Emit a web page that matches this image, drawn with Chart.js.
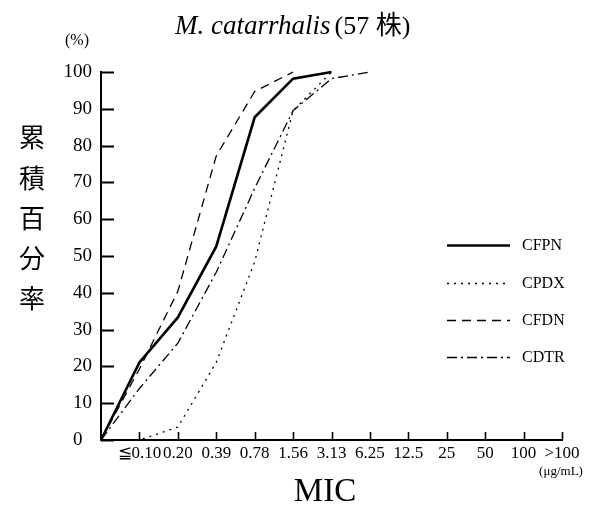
<!DOCTYPE html>
<html>
<head>
<meta charset="utf-8">
<script src="https://cdn.jsdelivr.net/npm/chart.js@4/dist/chart.umd.min.js"></script>
<style>
  html, body { margin: 0; padding: 0; background: #fff; }
  #wrap { width: 595px; height: 508px; position: relative; }
</style>
</head>
<body>
<div id="wrap"><canvas id="c" width="595" height="508"></canvas></div>
<script>
// ---- data ----
const categories = ['', '\u22660.10', '0.20', '0.39', '0.78', '1.56', '3.13', '6.25', '12.5', '25', '50', '100', '>100'];
const seriesNames = ['CFPN', 'CPDX', 'CFDN', 'CDTR'];
const cfpn = [0, 21.1, 33.3, 52.6, 87.7, 98.2, 100];
const cpdx = [0, 0, 3.5, 21.1, 48.4, 89.5, 100];
const cfdn = [0, 19.3, 40.4, 77.2, 94.7, 100];
const cdtr = [0, 14.0, 26.3, 45.6, 68.4, 89.5, 98.2, 100];
const yTicks = [0, 10, 20, 30, 40, 50, 60, 70, 80, 90, 100];
const titleItalic = 'M. catarrhalis';
const titleRest = '(57 \u682A)';
const yTitle = '\u7D2F\u7A4D\u767E\u5206\u7387';
const xTitle = 'MIC';
const unitLabel = '(\u03BCg/mL)';
const pctLabel = '(%)';

const SERIF = "'Liberation Serif', 'Times New Roman', serif";
const CJK = "'Noto Sans CJK JP', 'Noto Sans CJK SC', sans-serif";

const styles = [
  { borderWidth: 2.6, borderDash: [] },
  { borderWidth: 1.3, borderDash: [2, 5] },
  { borderWidth: 1.3, borderDash: [9, 6] },
  { borderWidth: 1.3, borderDash: [10, 4, 2, 4] }
];
const values = [cfpn, cpdx, cfdn, cdtr];

const datasets = seriesNames.map((n, i) => ({
  label: n,
  data: values[i],
  borderColor: '#000',
  backgroundColor: '#000',
  borderWidth: styles[i].borderWidth,
  borderDash: styles[i].borderDash,
  pointRadius: 0,
  tension: 0,
  fill: false,
  clip: 6
}));

const decor = {
  id: 'decor',
  afterDraw(chart) {
    const ctx = chart.ctx;
    const xs = chart.scales.x, ys = chart.scales.y;
    const ca = chart.chartArea;
    ctx.save();
    ctx.strokeStyle = '#000';
    ctx.fillStyle = '#000';
    // inward y ticks
    ctx.lineWidth = 2;
    yTicks.forEach(v => {
      const y = Math.round(ys.getPixelForValue(v)) + 0.5;
      ctx.beginPath(); ctx.moveTo(ca.left, y); ctx.lineTo(ca.left + 13, y); ctx.stroke();
    });
    // inward x ticks
    ctx.lineWidth = 1.6;
    for (let i = 1; i < categories.length; i++) {
      const x = Math.round(xs.getPixelForValue(i)) + 0.5;
      ctx.beginPath(); ctx.moveTo(x, ca.bottom); ctx.lineTo(x, ca.bottom - 8); ctx.stroke();
    }
    // title (mixed italic / upright)
    ctx.textBaseline = 'alphabetic';
    ctx.textAlign = 'left';
    ctx.font = 'italic 27px ' + SERIF;
    const tx = 175;
    ctx.fillText(titleItalic, tx, 34);
    const w1 = ctx.measureText(titleItalic).width;
    ctx.font = '26px ' + SERIF + ', ' + CJK;
    ctx.fillText(titleRest, tx + w1 + 4, 34);
    // (%)
    ctx.textAlign = 'center';
    ctx.textBaseline = 'middle';
    ctx.font = '16px ' + SERIF;
    ctx.fillText(pctLabel, 77, 41);
    // y title stacked vertically
    ctx.font = '26px ' + CJK;
    const ycent = [137, 178, 218, 258, 298];
    Array.from(yTitle).forEach((ch, i) => ctx.fillText(ch, 32, ycent[i]));
    // x title
    ctx.font = '33px ' + SERIF;
    ctx.fillText(xTitle, 325, 492);
    // unit
    ctx.font = '13px ' + SERIF;
    ctx.fillText(unitLabel, 561, 472);
    // legend
    const ly = [245, 283, 320, 357];
    chart.data.datasets.forEach((ds, i) => {
      ctx.save();
      ctx.lineWidth = ds.borderWidth;
      ctx.setLineDash(ds.borderDash);
      ctx.beginPath(); ctx.moveTo(447, ly[i] + 0.5); ctx.lineTo(510, ly[i] + 0.5); ctx.stroke();
      ctx.restore();
      ctx.textAlign = 'left';
      ctx.font = '16px ' + SERIF;
      ctx.fillText(ds.label, 522, ly[i] + 1);
    });
    ctx.restore();
  }
};

new Chart(document.getElementById('c'), {
  type: 'line',
  data: { labels: categories, datasets },
  plugins: [decor],
  options: {
    responsive: false,
    animation: false,
    devicePixelRatio: 1,
    layout: { padding: { top: 72, right: 33, left: 0, bottom: 0 } },
    plugins: { legend: { display: false }, title: { display: false }, tooltip: { enabled: false } },
    scales: {
      x: {
        type: 'category',
        offset: false,
        ticks: { autoSkip: false, maxRotation: 0, minRotation: 0, padding: 3, color: '#000',
                 font: { family: SERIF, size: 17 } },
        grid: { drawOnChartArea: false, drawTicks: false },
        border: { color: '#000', width: 2 },
        afterFit: s => { s.height = 68; }
      },
      y: {
        min: 0, max: 100,
        ticks: { stepSize: 10, padding: 9, color: '#000', font: { family: SERIF, size: 19 },
                 callback: v => (v === 0 ? '0\u2002' : String(v)) },
        grid: { drawOnChartArea: false, drawTicks: false },
        border: { color: '#000', width: 2 },
        afterFit: s => { s.width = 101; }
      }
    }
  }
});
</script>
</body>
</html>
